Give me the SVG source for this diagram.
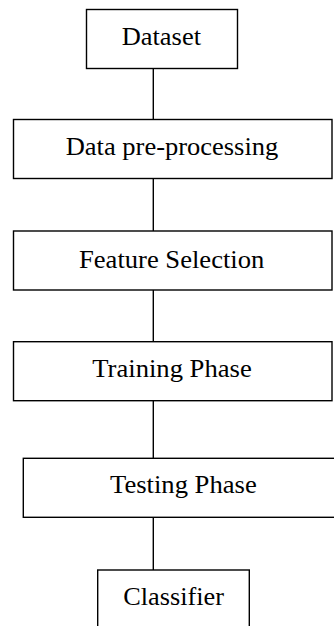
<svg xmlns="http://www.w3.org/2000/svg" width="334" height="626" viewBox="0 0 334 626">
<style>
.box{fill:#fff;stroke:#000;stroke-width:1.4}
.lbl{font-family:"Liberation Serif",serif;font-size:25px;fill:#000}
.conn line{stroke:#000;stroke-width:1.4}
</style>
<rect width="334" height="626" fill="#fff"/>
<g id="connectors" class="conn">
<line x1="153.3" y1="68.5" x2="153.3" y2="119.5"/>
<line x1="153.3" y1="178.5" x2="153.3" y2="231"/>
<line x1="153.3" y1="290" x2="153.3" y2="341.7"/>
<line x1="153.3" y1="400.7" x2="153.3" y2="458.3"/>
<line x1="153.3" y1="517.3" x2="153.3" y2="570"/>
</g>
<g id="dataset">
<rect class="box" x="86.5" y="9.5" width="151" height="59"/>
<text class="lbl" x="121.7" y="45" textLength="79.3" lengthAdjust="spacingAndGlyphs">Dataset</text>
</g>
<g id="preprocessing">
<rect class="box" x="13.5" y="119.5" width="318.5" height="59"/>
<text class="lbl" x="65.7" y="155" textLength="212.6" lengthAdjust="spacingAndGlyphs">Data pre-processing</text>
</g>
<g id="feature-selection">
<rect class="box" x="13.5" y="231" width="318.5" height="59"/>
<text class="lbl" x="79" y="267.5" textLength="185.3" lengthAdjust="spacingAndGlyphs">Feature Selection</text>
</g>
<g id="training">
<rect class="box" x="13.5" y="341.7" width="318.5" height="59"/>
<text class="lbl" x="92.3" y="376.7" textLength="159.4" lengthAdjust="spacingAndGlyphs">Training Phase</text>
</g>
<g id="testing">
<rect class="box" x="23.3" y="458.3" width="312" height="59"/>
<text class="lbl" x="110" y="493.3" textLength="146.7" lengthAdjust="spacingAndGlyphs">Testing Phase</text>
</g>
<g id="classifier">
<rect class="box" x="97.7" y="570" width="151.6" height="70"/>
<text class="lbl" x="123.3" y="605" textLength="100.7" lengthAdjust="spacingAndGlyphs">Classifier</text>
</g>
</svg>
